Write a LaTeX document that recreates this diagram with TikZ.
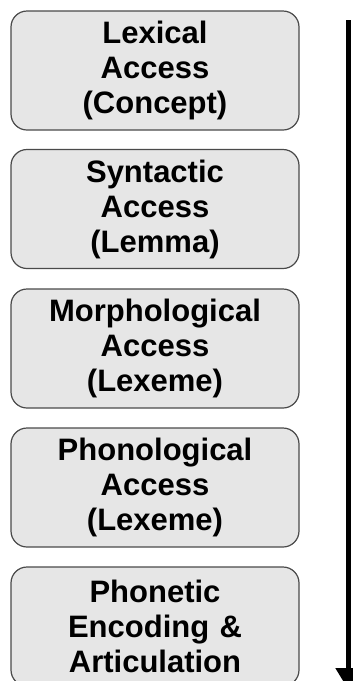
\documentclass[tikz,border=0pt]{standalone}
\usepackage{fontspec}
\setmainfont{Liberation Sans}
\usetikzlibrary{arrows.meta}
\definecolor{boxfill}{HTML}{E6E6E6}
\definecolor{boxline}{HTML}{4A4A4A}
\tikzset{
  stage/.style={draw=boxline, line width=1.2pt, fill=boxfill, rounded corners=16pt,
    minimum width=288pt, minimum height=119pt, text width=280pt, align=center,
    inner sep=0pt, font=\bfseries\fontsize{31}{35}\selectfont},
  flow/.style={line width=5pt, -{Triangle[width=25pt,length=22pt]}}
}
\begin{document}
\begin{tikzpicture}[x=1pt,y=-1pt]
\useasboundingbox (0,0) rectangle (353,681);
\node[stage] (lex) at (155,70.5) {Lexical\\Access\\(Concept)};
\node[stage] (syn) at (155,209) {Syntactic\\Access\\(Lemma)};
\node[stage] (mor) at (155,348.5) {Morphological\\Access\\(Lexeme)};
\node[stage] (pho) at (155,487.5) {Phonological\\Access\\(Lexeme)};
\node[stage] (pht) at (155,626.5) {Phonetic\\Encoding \&\\Articulation};
\coordinate (as) at (348.5,20);
\coordinate (ae) at (348.5,690);
\draw[flow] (as) -- (ae);
\end{tikzpicture}
\end{document}
